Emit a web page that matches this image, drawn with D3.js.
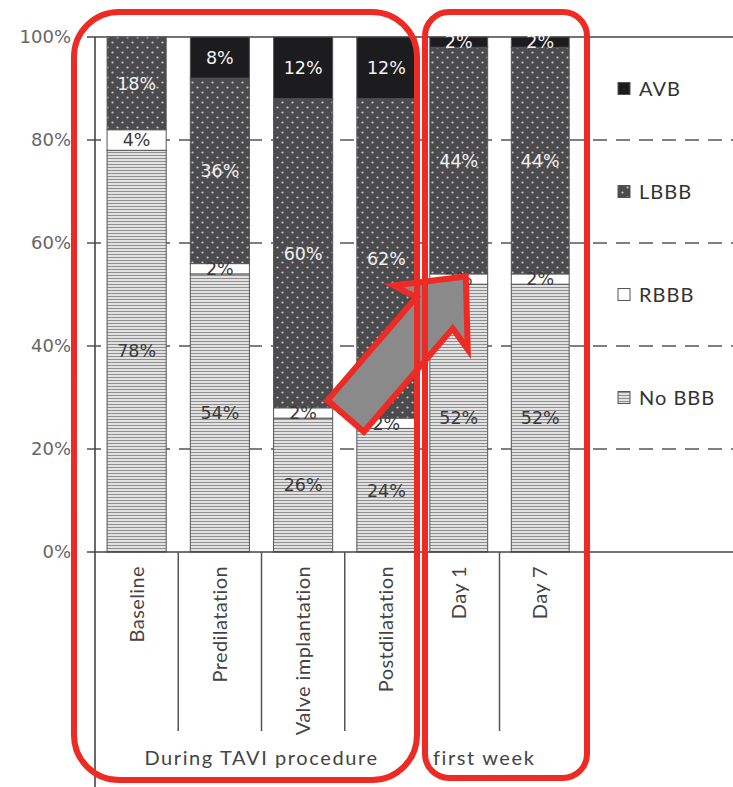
<!DOCTYPE html>
<html>
<head>
<meta charset="utf-8">
<script src="https://cdn.jsdelivr.net/npm/d3@7/dist/d3.min.js"></script>
<style>
  html, body { margin: 0; padding: 0; background: #fff; }
  svg { display: block; }
</style>
</head>
<body>
<svg id="chart" width="733" height="787"></svg>
<script>
// ---------------- DATA ----------------
const categories = ["Baseline", "Predilatation", "Valve implantation", "Postdilatation", "Day 1", "Day 7"];
const groupOf = ["proc", "proc", "proc", "proc", "week", "week"];
const groupNames = ["During TAVI procedure", "first week"];
const seriesNames = ["No BBB", "RBBB", "LBBB", "AVB"];
const noBBB = [78, 54, 26, 24, 52, 52];
const rbbb  = [4, 2, 2, 2, 2, 2];
const lbbb  = [18, 36, 60, 62, 44, 44];
const avb   = [0, 8, 12, 12, 2, 2];
const yTicks = [0, 20, 40, 60, 80, 100];
const legendOrder = ["AVB", "LBBB", "RBBB", "No BBB"];

// ---------------- SETUP ----------------
const svg = d3.select("#chart");
const W = 733, H = 787;
const plotLeft = 95, plotRight = 733, plotTop = 37, plotBottom = 552;

const y = d3.scaleLinear().domain([0, 100]).range([plotBottom, plotTop]);
const procCats = categories.filter((c, i) => groupOf[i] === "proc");
const weekCats = categories.filter((c, i) => groupOf[i] === "week");
const xProc = d3.scaleBand().domain(procCats).range([95, 428]).paddingInner(0.29).paddingOuter(0.145);
const xWeek = d3.scaleBand().domain(weekCats).range([418, 581]).paddingInner(0.29).paddingOuter(0.145);
const xOf = c => (procCats.includes(c) ? xProc(c) : xWeek(c));
const scaleOf = c => (procCats.includes(c) ? xProc : xWeek);

const table = categories.map((c, i) => ({
  cat: c, "No BBB": noBBB[i], "RBBB": rbbb[i], "LBBB": lbbb[i], "AVB": avb[i]
}));
const stacked = d3.stack().keys(seriesNames)(table);

// ---------------- PATTERNS ----------------
const defs = svg.append("defs");
const pH = defs.append("pattern").attr("id", "pNo").attr("patternUnits", "userSpaceOnUse")
  .attr("width", 6).attr("height", 3);
pH.append("rect").attr("width", 6).attr("height", 3).attr("fill", "#e2e2e2");
pH.append("rect").attr("y", 2).attr("width", 6).attr("height", 1).attr("fill", "#8e8e8e");

const pD = defs.append("pattern").attr("id", "pL").attr("patternUnits", "userSpaceOnUse")
  .attr("width", 10).attr("height", 10);
pD.append("rect").attr("width", 10).attr("height", 10).attr("fill", "#4b4b4d");
pD.append("circle").attr("cx", 2.5).attr("cy", 2.5).attr("r", 1.1).attr("fill", "#c8c8c8");
pD.append("circle").attr("cx", 7.5).attr("cy", 7.5).attr("r", 1.1).attr("fill", "#c8c8c8");

const fills = { "No BBB": "url(#pNo)", "RBBB": "#ffffff", "LBBB": "url(#pL)", "AVB": "#1c1c1e" };
const labelColor = { "No BBB": "#3a3a3a", "RBBB": "#3a3a3a", "LBBB": "#f0f0f0", "AVB": "#f4f4f4" };

// ---------------- GRID ----------------
svg.append("g").selectAll("line").data(yTicks.filter(t => t > 0 && t < 100)).join("line")
  .attr("x1", 87).attr("x2", plotRight)
  .attr("y1", d => y(d)).attr("y2", d => y(d))
  .attr("stroke", "#555").attr("stroke-width", 1.4)
  .attr("stroke-dasharray", "14,9");

// top border
svg.append("line").attr("x1", 87).attr("x2", plotRight).attr("y1", y(100)).attr("y2", y(100))
  .attr("stroke", "#444").attr("stroke-width", 1.5);

// ---------------- BARS ----------------
const gBars = svg.append("g");
stacked.forEach(layer => {
  const key = layer.key;
  gBars.append("g").selectAll("rect").data(layer.filter(d => d[1] - d[0] > 0)).join("rect")
    .attr("x", d => xOf(d.data.cat))
    .attr("width", d => scaleOf(d.data.cat).bandwidth())
    .attr("y", d => y(d[1]))
    .attr("height", d => y(d[0]) - y(d[1]))
    .attr("fill", fills[key])
    .attr("stroke", "#555").attr("stroke-width", 1);
});

// labels
const gLab = svg.append("g").attr("font-family", "DejaVu Sans, Verdana, sans-serif").attr("font-size", 17.5);
stacked.forEach(layer => {
  const key = layer.key;
  gLab.append("g").selectAll("text").data(layer.filter(d => d[1] - d[0] > 0)).join("text")
    .attr("x", d => xOf(d.data.cat) + scaleOf(d.data.cat).bandwidth() / 2)
    .attr("y", d => y((d[0] + d[1]) / 2))
    .attr("dy", "0.36em")
    .attr("text-anchor", "middle")
    .attr("fill", labelColor[key])
    .text(d => (d[1] - d[0]) + "%");
});

// ---------------- AXES ----------------
svg.append("g").attr("font-family", "DejaVu Sans, Verdana, sans-serif").attr("font-size", 18)
  .selectAll("text").data(yTicks).join("text")
  .attr("x", 71).attr("y", d => y(d)).attr("dy", "0.36em")
  .attr("text-anchor", "end").attr("fill", "#666")
  .text(d => d + "%");

svg.append("line").attr("x1", 87).attr("x2", plotRight).attr("y1", y(0)).attr("y2", y(0))
  .attr("stroke", "#444").attr("stroke-width", 1.6);
svg.append("line").attr("x1", plotLeft).attr("x2", plotLeft).attr("y1", y(100)).attr("y2", H)
  .attr("stroke", "#444").attr("stroke-width", 1.6);

const dividers = [];
procCats.slice(1).forEach(c => dividers.push(xProc(c) - xProc.step() * xProc.paddingInner() / 2));
weekCats.slice(1).forEach(c => dividers.push(xWeek(c) - xWeek.step() * xWeek.paddingInner() / 2));
svg.append("g").selectAll("line").data(dividers).join("line")
  .attr("x1", d => d).attr("x2", d => d)
  .attr("y1", y(0)).attr("y2", 731)
  .attr("stroke", "#555").attr("stroke-width", 1.5);

svg.append("g").attr("font-family", "Lato, 'Open Sans', sans-serif").attr("font-size", 20)
  .attr("letter-spacing", 0.4)
  .selectAll("text").data(categories).join("text")
  .attr("transform", c => `translate(${xOf(c) + scaleOf(c).bandwidth() / 2},566) rotate(-90)`)
  .attr("text-anchor", "end").attr("dy", "0.35em")
  .attr("fill", "#444")
  .text(c => c);

svg.append("text").attr("x", (xProc.range()[0] + xProc.range()[1]) / 2).attr("y", 765)
  .attr("text-anchor", "middle").attr("font-family", "Lato, 'Open Sans', sans-serif")
  .attr("font-size", 20).attr("letter-spacing", 1.6).attr("fill", "#444").text(groupNames[0]);
svg.append("text").attr("x", 433).attr("y", 765)
  .attr("text-anchor", "start").attr("font-family", "Lato, 'Open Sans', sans-serif")
  .attr("font-size", 20).attr("letter-spacing", 1.6).attr("fill", "#444").text(groupNames[1]);

// ---------------- LEGEND ----------------
const gLeg = svg.append("g").attr("font-family", "Lato, 'Open Sans', sans-serif").attr("font-size", 20)
  .attr("letter-spacing", 1);
legendOrder.forEach((k, i) => {
  const cy = y(90 - 20 * i);
  gLeg.append("rect").attr("x", 618).attr("y", cy - 6).attr("width", 12).attr("height", 12)
    .attr("fill", fills[k]).attr("stroke", "#555").attr("stroke-width", 1);
  gLeg.append("text").attr("x", 639).attr("y", cy).attr("dy", "0.36em")
    .attr("fill", "#333").text(k);
});

// ---------------- ARROW ----------------
const tail = [xProc("Valve implantation") + xProc.bandwidth() + 13, y(26.4)];
const tip = [xWeek("Day 1") + 36, y(53.5)];
const dx = tip[0] - tail[0], dy = tip[1] - tail[1];
const len = Math.hypot(dx, dy);
const u = [dx / len, dy / len], n = [-u[1], u[0]];
const shaftHalf = 24, headHalf = 49, headLen = 48;
const P = (along, side) => [tail[0] + u[0] * along + n[0] * side, tail[1] + u[1] * along + n[1] * side];
const baseAt = len - headLen;
const arrowPts = [
  P(0, -shaftHalf), P(baseAt, -shaftHalf), P(baseAt - 6, -headHalf), P(len, 0),
  P(baseAt - 6, headHalf), P(baseAt, shaftHalf), P(0, shaftHalf)
];
svg.append("path").attr("d", d3.line()(arrowPts) + "Z")
  .attr("fill", "#8a8a8a").attr("stroke", "#ee2a24").attr("stroke-width", 6)
  .attr("stroke-linejoin", "miter");

// ---------------- RED GROUP BOXES ----------------
svg.append("rect").attr("x", 74).attr("y", 12).attr("width", 343).attr("height", 768)
  .attr("rx", 45).attr("ry", 45)
  .attr("fill", "none").attr("stroke", "#ee2a24").attr("stroke-width", 6);
svg.append("rect").attr("x", 425).attr("y", 12).attr("width", 162).attr("height", 766)
  .attr("rx", 24).attr("ry", 24)
  .attr("fill", "none").attr("stroke", "#ee2a24").attr("stroke-width", 6);
</script>
</body>
</html>
